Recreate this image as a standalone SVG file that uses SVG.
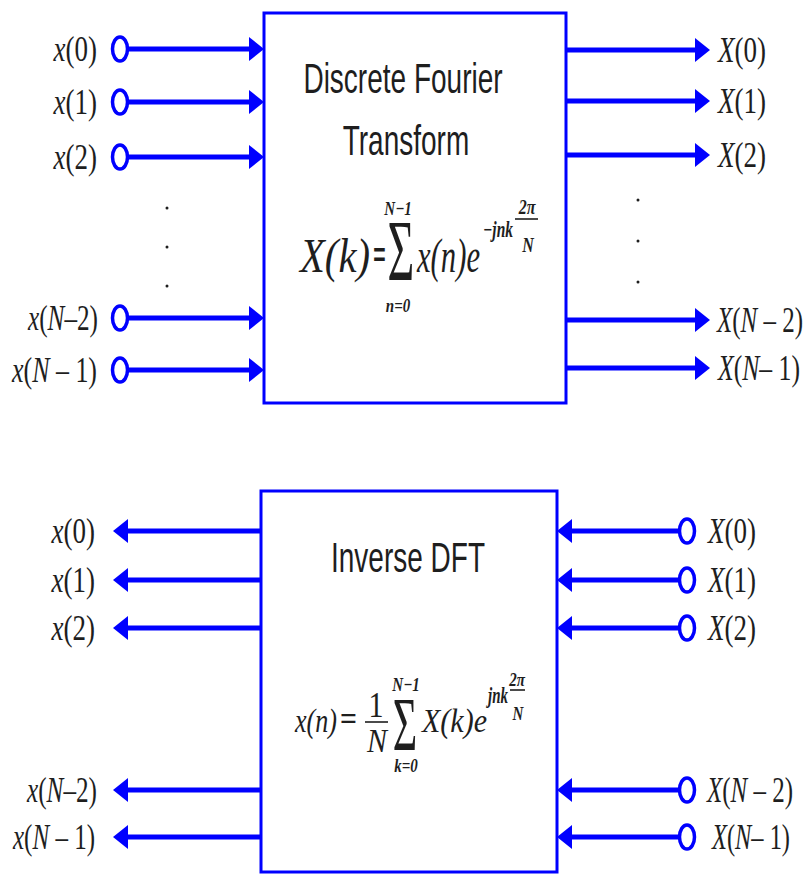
<svg xmlns="http://www.w3.org/2000/svg" width="806" height="876" viewBox="0 0 806 876">
<style>
.lbl{font-family:"Liberation Serif","Times New Roman",serif;font-size:27px;fill:#1e1e1e}
.f{font-family:"Liberation Serif","Times New Roman",serif;fill:#1e1e1e}
.i{font-style:italic}
.ttl{font-family:"Liberation Sans",Arial,sans-serif;font-size:28px;fill:#1e1e1e}
.box{fill:#fff;stroke:#0000ff;stroke-width:3}
.pin{fill:#fff;stroke:#0000ff;stroke-width:3.5}
.conn line{stroke:#0000ff;stroke-width:5;fill:none;marker-end:url(#ah)}
.bar{stroke:#1e1e1e;stroke-width:1.6}
.dot{fill:#1e1e1e}
</style>
<defs>
<marker id="ah" markerUnits="userSpaceOnUse" markerWidth="16" markerHeight="24" refX="0" refY="12" orient="auto" viewBox="0 0 16 24">
<path d="M0,0 L15,12 L0,24 Z" fill="#0000ff"/>
</marker>
</defs>

<g id="dft">
<rect class="box" x="264" y="13" width="302" height="390"/>
<text class="ttl" text-anchor="middle" transform="translate(403,93) scale(1,1.5)">Discrete Fourier</text>
<text class="ttl" text-anchor="middle" transform="translate(406,155) scale(1,1.5)">Transform</text>
<text class="f i" font-size="34" transform="translate(300,272) scale(1,1.4)" textLength="70" lengthAdjust="spacingAndGlyphs">X(k)</text>
<text class="f" font-size="34" font-weight="bold" transform="translate(373,270) scale(1,1.4)" textLength="13" lengthAdjust="spacingAndGlyphs">=</text>
<text class="f" font-size="46" text-anchor="middle" transform="translate(401,280) scale(1,1.9)">Σ</text>
<text class="f i" font-size="15" font-weight="bold" text-anchor="middle" transform="translate(398,215) scale(1,1.3)">N−1</text>
<text class="f i" font-size="15" font-weight="bold" text-anchor="middle" transform="translate(398,312) scale(1,1.3)">n=0</text>
<text class="f i" font-size="34" transform="translate(417,272) scale(1,1.4)" textLength="63" lengthAdjust="spacingAndGlyphs">x(n)e</text>
<text class="f i" font-size="17" font-weight="bold" transform="translate(483,237) scale(1,1.3)" textLength="30" lengthAdjust="spacingAndGlyphs">−jnk</text>
<text class="f i" font-size="16" font-weight="bold" text-anchor="middle" transform="translate(527,214) scale(1,1.3)">2π</text>
<line class="bar" x1="515" y1="219" x2="538" y2="219"/>
<text class="f i" font-size="16" font-weight="bold" text-anchor="middle" transform="translate(528,252) scale(1,1.3)">N</text>
</g>

<g id="idft">
<rect class="box" x="261" y="491" width="296" height="381"/>
<text class="ttl" text-anchor="middle" transform="translate(408,572) scale(1,1.5)">Inverse DFT</text>
<text class="f i" font-size="30" transform="translate(295,732) scale(1,1.15)" textLength="42" lengthAdjust="spacingAndGlyphs">x(n)</text>
<text class="f" font-size="30" font-weight="bold" transform="translate(340,730) scale(1,1.15)" textLength="17" lengthAdjust="spacingAndGlyphs">=</text>
<text class="f" font-size="30" text-anchor="middle" transform="translate(376,717) scale(1,1.2)">1</text>
<line class="bar" x1="365" y1="722" x2="388" y2="722" stroke-width="2"/>
<text class="f i" font-size="30" text-anchor="middle" transform="translate(377,752) scale(1,1.1)">N</text>
<text class="f" font-size="42" text-anchor="middle" transform="translate(405,750) scale(1,1.8)">Σ</text>
<text class="f i" font-size="15" font-weight="bold" text-anchor="middle" transform="translate(406,691) scale(1,1.3)">N−1</text>
<text class="f i" font-size="15" font-weight="bold" text-anchor="middle" transform="translate(406,772) scale(1,1.3)">k=0</text>
<text class="f i" font-size="30" transform="translate(422,732) scale(1,1.15)" textLength="65" lengthAdjust="spacingAndGlyphs">X(k)e</text>
<text class="f i" font-size="17" font-weight="bold" transform="translate(488,703) scale(1,1.3)" textLength="20" lengthAdjust="spacingAndGlyphs">jnk</text>
<text class="f i" font-size="15" font-weight="bold" text-anchor="middle" transform="translate(517,686) scale(1,1.3)">2π</text>
<line class="bar" x1="510" y1="690" x2="525" y2="690"/>
<text class="f i" font-size="15" font-weight="bold" text-anchor="middle" transform="translate(518,720) scale(1,1.3)">N</text>
</g>

<g class="conn" id="connectors">
<line x1="128" y1="49" x2="249" y2="49"/>
<line x1="128" y1="102" x2="249" y2="102"/>
<line x1="128" y1="157" x2="249" y2="157"/>
<line x1="128" y1="318" x2="249" y2="318"/>
<line x1="128" y1="370" x2="249" y2="370"/>
<line x1="566" y1="50" x2="695" y2="50"/>
<line x1="566" y1="101" x2="695" y2="101"/>
<line x1="566" y1="155" x2="695" y2="155"/>
<line x1="566" y1="320" x2="695" y2="320"/>
<line x1="566" y1="368" x2="695" y2="368"/>
<line x1="261" y1="531" x2="128" y2="531"/>
<line x1="261" y1="580" x2="128" y2="580"/>
<line x1="261" y1="628" x2="128" y2="628"/>
<line x1="261" y1="790" x2="128" y2="790"/>
<line x1="261" y1="837" x2="128" y2="837"/>
<line x1="679" y1="531" x2="572" y2="531"/>
<line x1="679" y1="580" x2="572" y2="580"/>
<line x1="679" y1="628" x2="572" y2="628"/>
<line x1="679" y1="790" x2="572" y2="790"/>
<line x1="679" y1="837" x2="572" y2="837"/>
</g>

<g id="in-top">
<g id="x0"><ellipse class="pin" cx="120" cy="49" rx="7.5" ry="12"/><text class="lbl" text-anchor="end" transform="translate(97,61) scale(1,1.35)"><tspan class="i">x</tspan>(0)</text></g>
<g id="x1"><ellipse class="pin" cx="120" cy="102" rx="7.5" ry="12"/><text class="lbl" text-anchor="end" transform="translate(97,114) scale(1,1.35)"><tspan class="i">x</tspan>(1)</text></g>
<g id="x2"><ellipse class="pin" cx="120" cy="157" rx="7.5" ry="12"/><text class="lbl" text-anchor="end" transform="translate(97,169) scale(1,1.35)"><tspan class="i">x</tspan>(2)</text></g>
<g id="xN2"><ellipse class="pin" cx="120" cy="318" rx="7.5" ry="12"/><text class="lbl" text-anchor="end" transform="translate(98,330) scale(1,1.35)" textLength="70" lengthAdjust="spacingAndGlyphs"><tspan class="i">x</tspan>(<tspan class="i">N</tspan>–2)</text></g>
<g id="xN1"><ellipse class="pin" cx="120" cy="370" rx="7.5" ry="12"/><text class="lbl" text-anchor="end" transform="translate(97,382) scale(1,1.35)" textLength="85" lengthAdjust="spacingAndGlyphs"><tspan class="i">x</tspan>(<tspan class="i">N</tspan> – 1)</text></g>
<circle class="dot" cx="167" cy="208" r="1.5"/><circle class="dot" cx="167" cy="247" r="1.5"/><circle class="dot" cx="167" cy="286" r="1.5"/>
</g>

<g id="out-top">
<g id="X0"><text class="lbl" transform="translate(718,62) scale(1,1.35)"><tspan class="i">X</tspan>(0)</text></g>
<g id="X1"><text class="lbl" transform="translate(718,113) scale(1,1.35)"><tspan class="i">X</tspan>(1)</text></g>
<g id="X2"><text class="lbl" transform="translate(718,167) scale(1,1.35)"><tspan class="i">X</tspan>(2)</text></g>
<g id="XN2"><text class="lbl" transform="translate(717,332) scale(1,1.35)" textLength="86" lengthAdjust="spacingAndGlyphs"><tspan class="i">X</tspan>(<tspan class="i">N</tspan> – 2)</text></g>
<g id="XN1"><text class="lbl" transform="translate(718,380) scale(1,1.35)" textLength="82" lengthAdjust="spacingAndGlyphs"><tspan class="i">X</tspan>(<tspan class="i">N</tspan>– 1)</text></g>
<circle class="dot" cx="638" cy="200" r="1.5"/><circle class="dot" cx="638" cy="241" r="1.5"/><circle class="dot" cx="638" cy="282" r="1.5"/>
</g>

<g id="out-bottom">
<g id="bx0"><text class="lbl" text-anchor="end" transform="translate(95,543) scale(1,1.35)"><tspan class="i">x</tspan>(0)</text></g>
<g id="bx1"><text class="lbl" text-anchor="end" transform="translate(95,592) scale(1,1.35)"><tspan class="i">x</tspan>(1)</text></g>
<g id="bx2"><text class="lbl" text-anchor="end" transform="translate(95,640) scale(1,1.35)"><tspan class="i">x</tspan>(2)</text></g>
<g id="bxN2"><text class="lbl" text-anchor="end" transform="translate(97,802) scale(1,1.35)" textLength="70" lengthAdjust="spacingAndGlyphs"><tspan class="i">x</tspan>(<tspan class="i">N</tspan>–2)</text></g>
<g id="bxN1"><text class="lbl" text-anchor="end" transform="translate(95,849) scale(1,1.35)" textLength="82" lengthAdjust="spacingAndGlyphs"><tspan class="i">x</tspan>(<tspan class="i">N</tspan> – 1)</text></g>
</g>

<g id="in-bottom">
<g id="bX0"><ellipse class="pin" cx="687" cy="531" rx="7.5" ry="12"/><text class="lbl" transform="translate(708,543) scale(1,1.35)"><tspan class="i">X</tspan>(0)</text></g>
<g id="bX1"><ellipse class="pin" cx="687" cy="580" rx="7.5" ry="12"/><text class="lbl" transform="translate(708,592) scale(1,1.35)"><tspan class="i">X</tspan>(1)</text></g>
<g id="bX2"><ellipse class="pin" cx="687" cy="628" rx="7.5" ry="12"/><text class="lbl" transform="translate(708,640) scale(1,1.35)"><tspan class="i">X</tspan>(2)</text></g>
<g id="bXN2"><ellipse class="pin" cx="687" cy="790" rx="7.5" ry="12"/><text class="lbl" transform="translate(707,802) scale(1,1.35)" textLength="86" lengthAdjust="spacingAndGlyphs"><tspan class="i">X</tspan>(<tspan class="i">N</tspan> – 2)</text></g>
<g id="bXN1"><ellipse class="pin" cx="687" cy="837" rx="7.5" ry="12"/><text class="lbl" transform="translate(712,849) scale(1,1.35)" textLength="78" lengthAdjust="spacingAndGlyphs"><tspan class="i">X</tspan>(<tspan class="i">N</tspan>– 1)</text></g>
</g>
</svg>
